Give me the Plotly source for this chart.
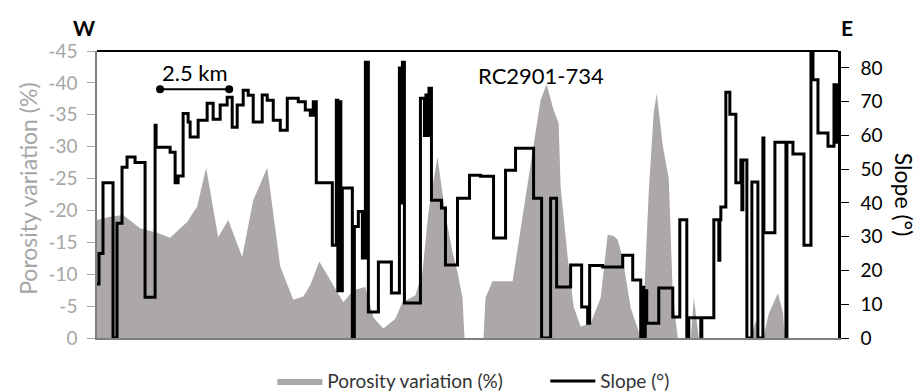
import plotly.graph_objects as go

# ---- data (distance along track in plot units; 69 units = 2.5 km) ----
poro_x = [0, 13, 26, 43, 60, 73, 90, 100, 109, 121, 131, 145, 156, 170, 183, 196, 206, 213,
          222, 236, 246, 256, 268, 276, 286, 298, 305, 318, 325, 331, 340, 348, 355, 360, 365,
          367, 386, 388, 395, 415, 425, 436, 443, 449, 456, 461, 463, 470, 476, 483, 493, 503,
          506, 510, 516, 520, 525, 533, 540, 543, 546, 551, 556, 559, 565, 571, 575, 578, 580,
          593, 596, 601, 653, 655, 658, 661, 666, 671, 680, 685, 687, 740]
poro_val = [-18.5, -19.0, -19.3, -17.2, -16.5, -15.7, -18.2, -20.6, -26.7, -15.8, -18.5, -12.7,
            -21.6, -26.7, -11.2, -6.0, -6.5, -8.3, -12.0, -8.3, -5.6, -7.5, -8.0, -3.2, -1.5,
            -3.0, -5.6, -6.7, -10.3, -19.7, -28.4, -19.3, -13.5, -10.3, -6.3, 0, 0, -6.3, -8.9,
            -8.9, -19.0, -30.5, -37.3, -39.8, -35.7, -33.7, -23.7, -12.7, -4.9, -1.8, -2.3, -6.3,
            -11.0, -16.2, -16.0, -15.4, -12.5, -4.7, -1.5, 0, -5.2, -22.9, -35.4, -38.3, -30.2,
            -25.0, -6.7, -2.0, 0, 0, -6.4, 0, 0, -1.0, -2.8, 0, -0.5, -3.9, -7.0, -4.0, 0, 0]

slope_x = [0, 2, 6, 16, 20, 25, 30, 38, 48, 58, 59, 73, 78, 81, 86, 91, 93, 101, 110, 116, 123,
           130, 135, 140, 146, 151, 156, 165, 170, 176, 183, 190, 201, 208, 213, 216, 219, 235,
           239, 240.5, 242, 243.5, 245, 255, 257, 261, 265, 268, 271, 281, 294, 302, 304, 305,
           307, 323, 327, 328.5, 330, 331.5, 334, 344, 348, 360, 372, 383, 396, 408, 418, 436,
           444, 453, 459, 473, 484, 490, 492, 505, 525, 535, 543, 544.5, 546, 547.5, 549, 561,
           575, 582, 589, 591, 603, 604, 616, 621, 622, 623, 628, 632, 638, 643, 644, 645, 649,
           654, 660, 665, 666, 677, 688, 689, 695, 706, 713, 715, 720, 730, 736, 737, 738, 739,
           740]
slope_val = [16, 25, 46, 0, 34, 50.6, 53.6, 52, 12.1, 63, 56.5, 55, 46, 48, 66.5, 64, 59.5, 64.5,
             69.5, 64.8, 69, 71.3, 62.4, 69, 73.4, 71.9, 64, 72, 70.4, 64.5, 61.5, 71, 70, 67.5,
             66, 70, 46, 27.5, 70.4, 14, 70, 14, 44.4, 0, 33, 37.5, 23.7, 81.7, 7.7, 22.5, 13.3,
             80, 40, 81.7, 10.4, 71, 60, 72, 60, 74, 40.8, 38.5, 21.6, 41.4, 48.2, 47.9, 29.6,
             49.7, 56.2, 41.4, 0, 41.4, 15.1, 21.6, 9.2, 4.4, 21.5, 21, 24.5, 17.2, 0, 15, 0, 14,
             4.4, 14.8, 6.2, 35, 0, 6, 0, 6, 35, 23, 35, 38.8, 72.8, 66.3, 46, 52.7, 38, 52.7, 0,
             46.2, 0, 59.2, 31.2, 58, 0, 58, 54.5, 27.5, 85, 76.5, 60.7, 56.8, 75, 60, 75, 58, 74]

poro_ticks = [0, -5, -10, -15, -20, -25, -30, -35, -40, -45]
poro_ticklabels = ["0", "-5", "-10", "-15", "-20", "-25", "-30", "-35", "-40", "-45"]
slope_ticks = [0, 10, 20, 30, 40, 50, 60, 70, 80]

UNITS_PER_KM = 69 / 2.5
scale_km = 2.5
scale_x0 = 63
scale_y = 73.7

FONT = "Lato"
GREY_TXT = "#A6A6A6"
FILL = "#ABA8A7"

fig = go.Figure()
fig.add_trace(go.Scatter(x=poro_x, y=poro_val, mode="lines", fill="tozeroy",
                         fillcolor=FILL, line=dict(width=0, color=FILL),
                         name="Porosity variation (%)", yaxis="y"))
fig.add_trace(go.Scatter(x=slope_x, y=slope_val, mode="lines", line_shape="hv",
                         line=dict(color="black", width=3), name="Slope (°)", yaxis="y2"))
# scale bar
fig.add_trace(go.Scatter(x=[scale_x0, scale_x0 + scale_km * UNITS_PER_KM], y=[scale_y, scale_y],
                         mode="lines+markers", line=dict(color="black", width=2),
                         marker=dict(size=8, color="black"), showlegend=False, yaxis="y2",
                         hoverinfo="skip"))

fig.update_layout(
    width=920, height=392,
    margin=dict(l=97, r=82, t=51, b=54, autoexpand=False),
    paper_bgcolor="white", plot_bgcolor="white",
    font=dict(family=FONT, color="black"),
    xaxis=dict(range=[0, 740], showticklabels=False, ticks="", showgrid=False,
               zeroline=False, showline=True, linecolor="#7F7F7F", linewidth=1.5),
    yaxis=dict(range=[0, -45], tickvals=poro_ticks, ticktext=poro_ticklabels,
               ticks="outside", ticklen=8, tickcolor="#A6A6A6", ticklabelstandoff=6,
               tickfont=dict(size=19, color=GREY_TXT, family=FONT),
               showgrid=False, zeroline=False, showline=True, linecolor="#7F7F7F",
               linewidth=1.5),
    yaxis2=dict(range=[0, 85], overlaying="y", side="right", tickvals=slope_ticks,
                ticks="outside", ticklen=8, tickcolor="black", ticklabelstandoff=8,
                tickfont=dict(size=19, color="black", family=FONT),
                showgrid=False, zeroline=False, showline=True, linecolor="black",
                linewidth=2.5),
    showlegend=True,
    legend=dict(orientation="h", x=0.605, xanchor="center", y=-0.15, yanchor="middle",
                font=dict(size=19, family=FONT, color="#333333"), itemwidth=45,
                entrywidth=213, entrywidthmode="pixels",
                traceorder="normal", bgcolor="rgba(0,0,0,0)"),
    shapes=[dict(type="line", xref="paper", yref="paper", x0=0, x1=1, y0=1, y1=1,
                 line=dict(color="black", width=2))],
    annotations=[
        dict(text="Porosity variation (%)", xref="paper", yref="paper", x=-0.093, y=0.52,
             xanchor="center", yanchor="middle", textangle=-90, showarrow=False,
             font=dict(size=23, color=GREY_TXT, family=FONT)),
        dict(text="Slope (°)", xref="paper", yref="paper", x=1.09, y=0.5,
             xanchor="center", yanchor="middle", textangle=90, showarrow=False,
             font=dict(size=23, color="black", family=FONT)),
        dict(text="<b>W</b>", xref="paper", yref="paper", x=-0.018, y=1.083,
             xanchor="center", yanchor="middle",
             showarrow=False, font=dict(size=21, color="black", family=FONT)),
        dict(text="<b>E</b>", xref="paper", yref="paper", x=1.012, y=1.083,
             xanchor="center", yanchor="middle",
             showarrow=False, font=dict(size=21, color="black", family=FONT)),
        dict(text="RC2901-734", x=443, y=-41.2, xref="x", yref="y",
             xanchor="center", yanchor="middle",
             showarrow=False, font=dict(size=22, color="black", family=FONT)),
        dict(text="2.5 km", x=scale_x0 + scale_km * UNITS_PER_KM / 2, y=scale_y + 5,
             xref="x", yref="y2", xanchor="center", yanchor="middle", showarrow=False,
             font=dict(size=22, color="black", family=FONT)),
    ],
)

fig.write_html("out.html")
